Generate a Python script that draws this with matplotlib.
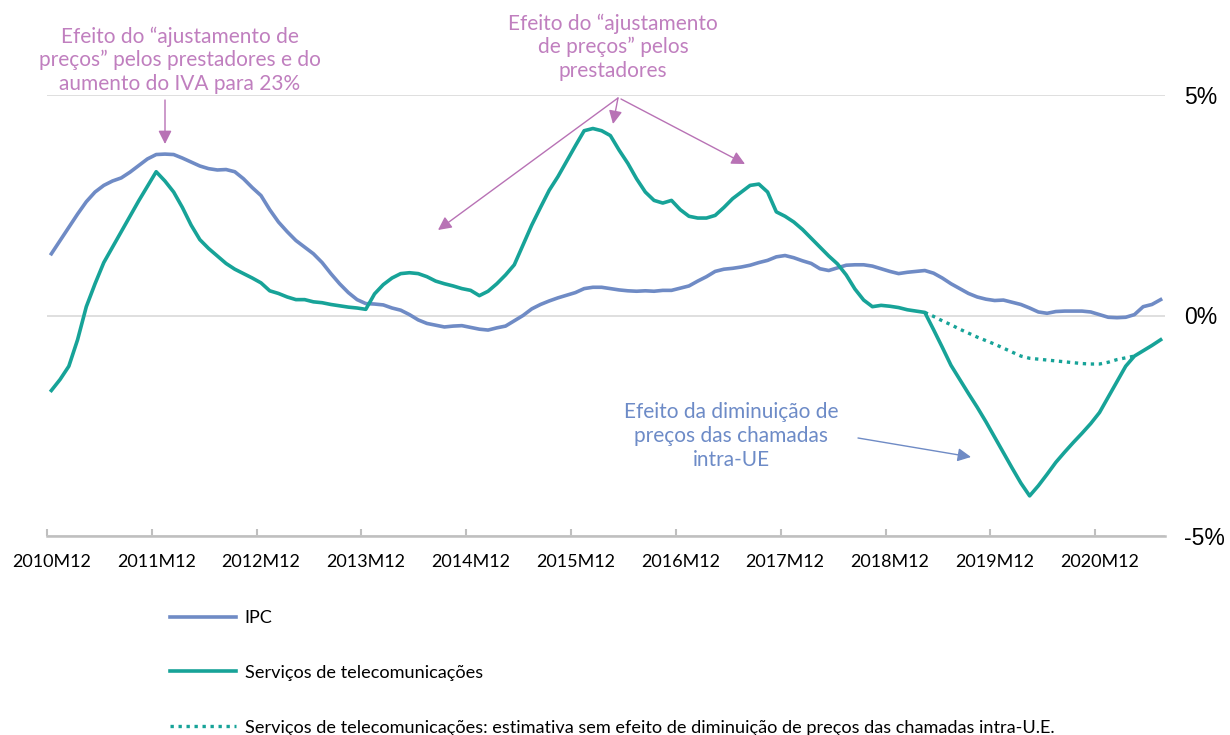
import numpy as np
import matplotlib
matplotlib.use('Agg')
import matplotlib.pyplot as plt
from matplotlib.lines import Line2D

# ---------------------------------------------------------------------
# data: monthly year-on-year rates (%), 2010M12 .. 2021M07
START_YEAR, START_MONTH = 2010, 12
N_MONTHS = 128

ipc = [1.40, 1.70, 2.00, 2.30, 2.58, 2.80, 2.95, 3.05, 3.12, 3.25,
       3.40, 3.55, 3.65, 3.66, 3.65, 3.57, 3.48, 3.39, 3.33, 3.30,
       3.31, 3.26, 3.10, 2.90, 2.72, 2.40, 2.12, 1.90, 1.70, 1.55,
       1.40, 1.20, 0.95, 0.72, 0.52, 0.36, 0.27, 0.26, 0.24, 0.17,
       0.12, 0.02, -0.10, -0.18, -0.22, -0.26, -0.24, -0.23, -0.27, -0.31,
       -0.33, -0.28, -0.24, -0.12, 0.00, 0.15, 0.25, 0.33, 0.40, 0.46,
       0.52, 0.61, 0.64, 0.64, 0.61, 0.58, 0.56, 0.55, 0.56, 0.55,
       0.57, 0.57, 0.62, 0.67, 0.78, 0.88, 1.00, 1.05, 1.07, 1.10,
       1.14, 1.20, 1.25, 1.33, 1.36, 1.31, 1.24, 1.18, 1.06, 1.02,
       1.08, 1.14, 1.15, 1.15, 1.12, 1.06, 1.00, 0.95, 0.98, 1.00,
       1.02, 0.96, 0.85, 0.72, 0.61, 0.50, 0.42, 0.37, 0.34, 0.35,
       0.30, 0.25, 0.17, 0.08, 0.05, 0.09, 0.10, 0.10, 0.10, 0.08,
       0.02, -0.04, -0.05, -0.04, 0.02, 0.20, 0.25, 0.36]

telecom = [-1.70, -1.45, -1.15, -0.55, 0.20, 0.72, 1.20, 1.55, 1.90, 2.25,
           2.60, 2.93, 3.26, 3.05, 2.80, 2.45, 2.05, 1.72, 1.52, 1.35,
           1.18, 1.05, 0.95, 0.85, 0.74, 0.56, 0.50, 0.42, 0.36, 0.36,
           0.31, 0.29, 0.25, 0.22, 0.19, 0.17, 0.14, 0.49, 0.70, 0.85,
           0.95, 0.97, 0.95, 0.88, 0.78, 0.72, 0.67, 0.61, 0.57, 0.45,
           0.55, 0.72, 0.92, 1.15, 1.60, 2.05, 2.45, 2.84, 3.15, 3.50,
           3.85, 4.19, 4.24, 4.19, 4.08, 3.75, 3.45, 3.10, 2.80, 2.61,
           2.55, 2.61, 2.40, 2.25, 2.21, 2.21, 2.27, 2.45, 2.65, 2.80,
           2.95, 2.98, 2.80, 2.35, 2.25, 2.12, 1.95, 1.75, 1.55, 1.35,
           1.17, 0.92, 0.60, 0.35, 0.20, 0.23, 0.21, 0.18, 0.13, 0.10,
           0.07, -0.32, -0.72, -1.13, -1.45, -1.77, -2.08, -2.41, -2.76, -3.11,
           -3.46, -3.80, -4.09, -3.86, -3.60, -3.33, -3.10, -2.88, -2.67, -2.45,
           -2.20, -1.85, -1.50, -1.15, -0.92, -0.80, -0.68, -0.55]

# estimate without the intra-EU call price cut, from 2019M04 to 2021M04
est_start = 100
estimate = [0.07, -0.02, -0.12, -0.21, -0.31, -0.40, -0.49, -0.57, -0.65, -0.74,
            -0.83, -0.92, -0.97, -0.99, -1.01, -1.03, -1.05, -1.07, -1.09, -1.10,
            -1.10, -1.06, -1.00, -0.96, -0.92]

y_ticks = [-5, 0, 5]
y_labels = ['-5%', '0%', '5%']

legend_labels = ['IPC', 'Serviços de telecomunicações',
                 'Serviços de telecomunicações: estimativa sem efeito de '
                 'diminuição de preços das chamadas intra-U.E.']

note_prices_vat = 'Efeito do “ajustamento de\npreços” pelos prestadores e do\naumento do IVA para 23%'
note_prices = 'Efeito do “ajustamento\nde preços” pelos\nprestadores'
note_eu = 'Efeito da diminuição de\npreços das chamadas\nintra-UE'

# ---------------------------------------------------------------------
BLUE = '#6f8bc5'
TEAL = '#17a398'
PURPLE_TXT = '#c07fbf'
PURPLE = '#b872b5'
BLUE_TXT = '#6d8bc7'

W, H = 1230, 735

def fp(x, y):
    # figure pixels measured from the top-left corner
    return (x, H - y)

months = []
y, m = START_YEAR, START_MONTH
for i in range(N_MONTHS):
    months.append('%dM%02d' % (y, m))
    m += 1
    if m > 12:
        m = 1
        y += 1

x = np.arange(N_MONTHS)
x_est = np.arange(est_start, est_start + len(estimate))

fig = plt.figure(figsize=(W / 100, H / 100), dpi=100)
ax = fig.add_axes([47 / W, 1 - 536 / H, (1165 - 47) / W, (536 - 95) / H])

ax.plot(x, ipc, color=BLUE, lw=2.6, solid_joinstyle='round', zorder=3)
ax.plot(x, telecom, color=TEAL, lw=2.6, solid_joinstyle='round', zorder=4)
ax.plot(x_est, estimate, color=TEAL, lw=2.4, linestyle=(0, (1, 1.4)),
        zorder=4)

ax.set_xlim(-0.5, N_MONTHS - 0.5)
ax.set_ylim(-5, 5)

# category labels every 12 months, tick marks on the boundaries
lab_pos = list(range(0, N_MONTHS, 12))
ax.set_xticks(lab_pos)
ax.set_xticklabels([months[i] for i in lab_pos], family='Lato', fontsize=13)
ax.set_xticks([p - 0.5 for p in lab_pos], minor=True)
ax.tick_params(axis='x', which='major', length=0, pad=13)
ax.tick_params(axis='x', which='minor', length=5, width=1.5,
               direction='in', color='#bfbfbf')

ax.yaxis.tick_right()
ax.set_yticks(y_ticks)
ax.set_yticklabels(y_labels, family='Liberation Sans', fontsize=16.5)
ax.tick_params(axis='y', length=0, pad=14)
ax.grid(axis='y', color='#d9d9d9', lw=1.2)
ax.set_axisbelow(True)

for s in ['top', 'left', 'right']:
    ax.spines[s].set_visible(False)
ax.spines['bottom'].set_color('#bfbfbf')
ax.spines['bottom'].set_linewidth(1.8)
ax.spines['bottom'].set_zorder(5)

# annotations
fig.text(180 / W, 1 - 60 / H, note_prices_vat, ha='center', va='center',
         family='Lato', fontsize=15, color=PURPLE_TXT, linespacing=1.2)
fig.text(613 / W, 1 - 47 / H, note_prices, ha='center', va='center',
         family='Lato', fontsize=15, color=PURPLE_TXT, linespacing=1.2)
fig.text(731 / W, 1 - 436 / H, note_eu, ha='center', va='center',
         family='Lato', fontsize=15, color=BLUE_TXT, linespacing=1.22)

arrows = [((165, 100), (165, 144), PURPLE),
          ((618, 98), (438, 230), PURPLE),
          ((618, 98), (613, 124), PURPLE),
          ((621, 99), (745, 164), PURPLE),
          ((858, 438), (971, 457), BLUE)]
for start, end, col in arrows:
    ax.annotate('', xy=fp(*end), xycoords='figure pixels',
                xytext=fp(*start), textcoords='figure pixels',
                arrowprops=dict(arrowstyle='-|>', color=col, lw=1.0,
                                mutation_scale=20, shrinkA=0, shrinkB=0))

# legend below the chart
handles = [Line2D([], [], color=BLUE, lw=2.6),
           Line2D([], [], color=TEAL, lw=2.6),
           Line2D([], [], color=TEAL, lw=2.4, linestyle=(0, (1, 1.4)))]
fig.legend(handles, legend_labels, loc='upper left',
           bbox_to_anchor=(170 / W, 1 - 610 / H), frameon=False,
           prop={'family': 'Lato', 'size': 13.1}, handlelength=3.6,
           handletextpad=0.5, labelspacing=2.13, borderpad=0,
           borderaxespad=0)

fig.savefig('out.png', dpi=100)
